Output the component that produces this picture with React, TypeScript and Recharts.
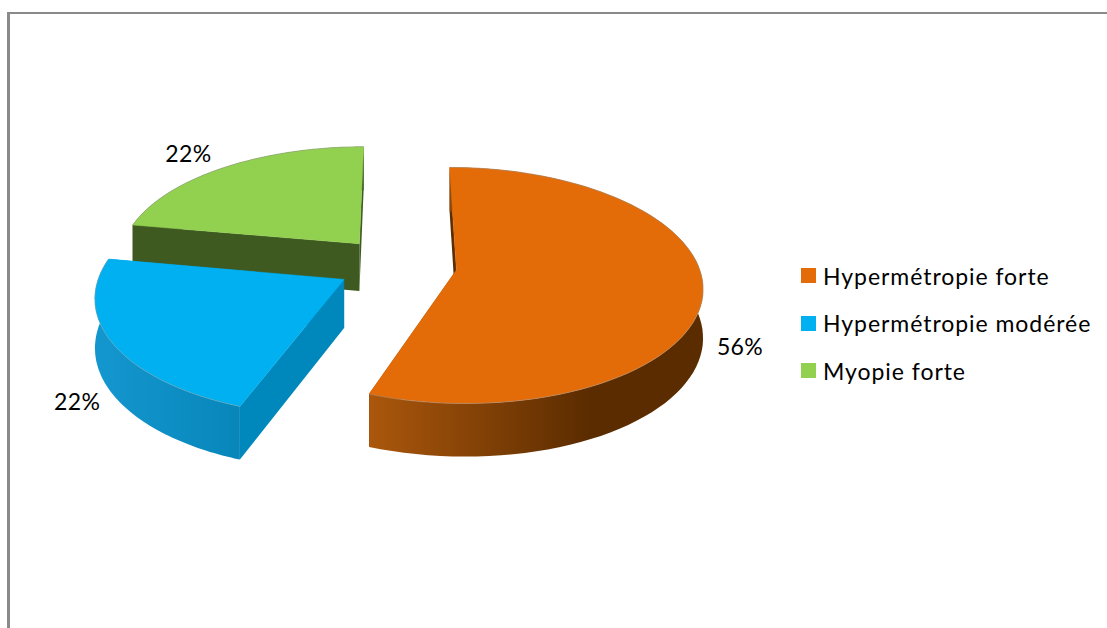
import React from 'react';
import { PieChart, Pie, Legend } from 'recharts';

// Labels say 56 / 22 / 22, slice angles look like 5/9, 2/9, 2/9
const names = ['Myopie forte', 'Hypermétropie modérée', 'Hypermétropie forte'];
const shares = [22.2, 22.2, 55.6];

const COLORS: { [key: string]: { top: string; side: string; wall: string[] } } = {
  'Myopie forte': { top: '#92d050', side: '#3f5a21', wall: ['#3f5a21', '#3f5a21'] },
  'Hypermétropie modérée': { top: '#00b0f0', side: '#0088bd', wall: ['#1497cf', '#0786ba'] },
  'Hypermétropie forte': { top: '#e36c09', side: '#5c2e00', wall: ['#ab570c', '#5b2c00'] },
};

// Nudges from the projected rim point to where each percent label sits
const LABEL_NUDGE: { [key: string]: number[] } = {
  'Myopie forte': [-36, -14],
  'Hypermétropie modérée': [-35, 58],
  'Hypermétropie forte': [37, 55],
};

const FONT = 'Lato, "Open Sans", sans-serif';
const EXPLODE = 0.248; // slice pull-out, as a share of the radius
const TILT = 0.474; // height of the top face relative to its width
const PERSPECTIVE = 0.13; // back of the pie is smaller than the front
const DEPTH = 48;

const chartData = names.map((name, i) => ({ name, value: shares[i], fill: COLORS[name].top }));

// Recharts angle -> screen position, with a real vanishing point at the pie centre
function project(cx: number, cy: number, r: number, radius: number, angle: number, mid: number) {
  const rad = (angle * Math.PI) / 180;
  const midRad = (mid * Math.PI) / 180;
  const px = EXPLODE * Math.cos(midRad) + (radius * Math.cos(rad));
  const py = EXPLODE * Math.sin(midRad) + (radius * Math.sin(rad));
  const den = 1 + PERSPECTIVE * py;
  return {
    x: cx + (r * px) / den,
    y: cy - (r * TILT * py) / den,
    depth: DEPTH / Math.pow(den, 0.7),
  };
}

const toPath = (pts: { x: number; y: number }[]) =>
  pts.map((p, i) => `${i ? 'L' : 'M'}${p.x.toFixed(1)},${p.y.toFixed(1)}`).join(' ') + ' Z';

const Slice3D = (props: any) => {
  const { cx, cy, outerRadius, startAngle, endAngle, name } = props;
  const mid = (startAngle + endAngle) / 2;
  const style = COLORS[name];
  const apex = project(cx, cy, outerRadius, 0, mid, mid);
  const apexLow = { x: apex.x, y: apex.y + apex.depth };

  const rim = [];
  for (let i = 0; i <= 80; i++) {
    rim.push(project(cx, cy, outerRadius, 1, startAngle + ((endAngle - startAngle) * i) / 80, mid));
  }
  const rimLow = rim.map((p) => ({ x: p.x, y: p.y + p.depth }));
  const first = rim[0];
  const last = rim[rim.length - 1];
  const gradId = `wall-${names.indexOf(name)}`;
  const xs = rim.map((p) => p.x);
  const rimLine = rim.map((p, i) => `${i ? 'L' : 'M'}${p.x.toFixed(1)},${p.y.toFixed(1)}`).join(' ');

  return (
    <g>
      <defs>
        <linearGradient
          id={gradId}
          gradientUnits="userSpaceOnUse"
          x1={Math.min(...xs)}
          x2={name === 'Hypermétropie forte' ? Math.min(...xs) + 220 : Math.min(...xs) + 145}
          y1={0}
          y2={0}
        >
          <stop offset="0%" stopColor={style.wall[0]} />
          <stop offset="100%" stopColor={style.wall[1]} />
        </linearGradient>
      </defs>
      <path d={toPath([apex, first, { x: first.x, y: first.y + first.depth }, apexLow])} fill={style.side} />
      <path d={toPath([apex, last, { x: last.x, y: last.y + last.depth }, apexLow])} fill={style.side} />
      <path d={toPath([...rim, ...rimLow.slice().reverse()])} fill={`url(#${gradId})`} />
      <path d={toPath([apex, ...rim])} fill={style.top} stroke={style.top} strokeWidth={0.5} />
      <path d={rimLine} fill="none" stroke="#9a9a9a" strokeOpacity={0.45} strokeWidth={1} />
    </g>
  );
};

const renderLabel = (props: any) => {
  const { cx, cy, outerRadius, midAngle, percent, name } = props;
  const p = project(cx, cy, outerRadius, 1, midAngle, midAngle);
  const nudge = LABEL_NUDGE[name];
  return (
    <text
      x={p.x + nudge[0]}
      y={p.y + nudge[1]}
      fill="#000"
      textAnchor="middle"
      dominantBaseline="central"
      fontSize={23}
      letterSpacing={0.4}
      fontFamily={FONT}
    >
      {`${Math.round(percent * 100)}%`}
    </text>
  );
};

const renderLegend = ({ payload }: any) => (
  <div style={{ fontFamily: FONT, fontSize: 23, letterSpacing: 0.95, color: '#000' }}>
    {(payload || []).map((entry: any) => (
      <div key={entry.value} style={{ display: 'flex', alignItems: 'center', height: 47.6 }}>
        <span style={{ width: 15, height: 15, background: entry.color, marginRight: 7, display: 'inline-block' }} />
        <span style={{ whiteSpace: 'nowrap' }}>{entry.value}</span>
      </div>
    ))}
  </div>
);

export default function App() {
  return (
    <div style={{ position: 'absolute', left: 0, top: 0, width: 1107, height: 628, overflow: 'hidden', background: '#fff' }}>
      <div
        style={{
          position: 'absolute',
          left: 7,
          top: 12,
          width: 1100,
          height: 616,
          boxSizing: 'border-box',
          borderLeft: '3px solid #8a8a8a',
          borderTop: '2px solid #8a8a8a',
        }}
      />
      <PieChart
        width={1107}
        height={628}
        margin={{ top: 0, right: 0, bottom: 0, left: 0 }}
        style={{ position: 'absolute', left: 0, top: 0 }}
      >
        <Pie
          data={chartData}
          dataKey="value"
          nameKey="name"
          cx={397}
          cy={265}
          innerRadius={0}
          outerRadius={242}
          startAngle={90}
          endAngle={450}
          stroke="none"
          label={renderLabel}
          labelLine={false}
          shape={Slice3D}
          isAnimationActive={false}
        />
        <Legend
          layout="vertical"
          align="right"
          verticalAlign="top"
          wrapperStyle={{ left: 801, top: 252, width: 300 }}
          content={renderLegend}
        />
      </PieChart>
    </div>
  );
}
